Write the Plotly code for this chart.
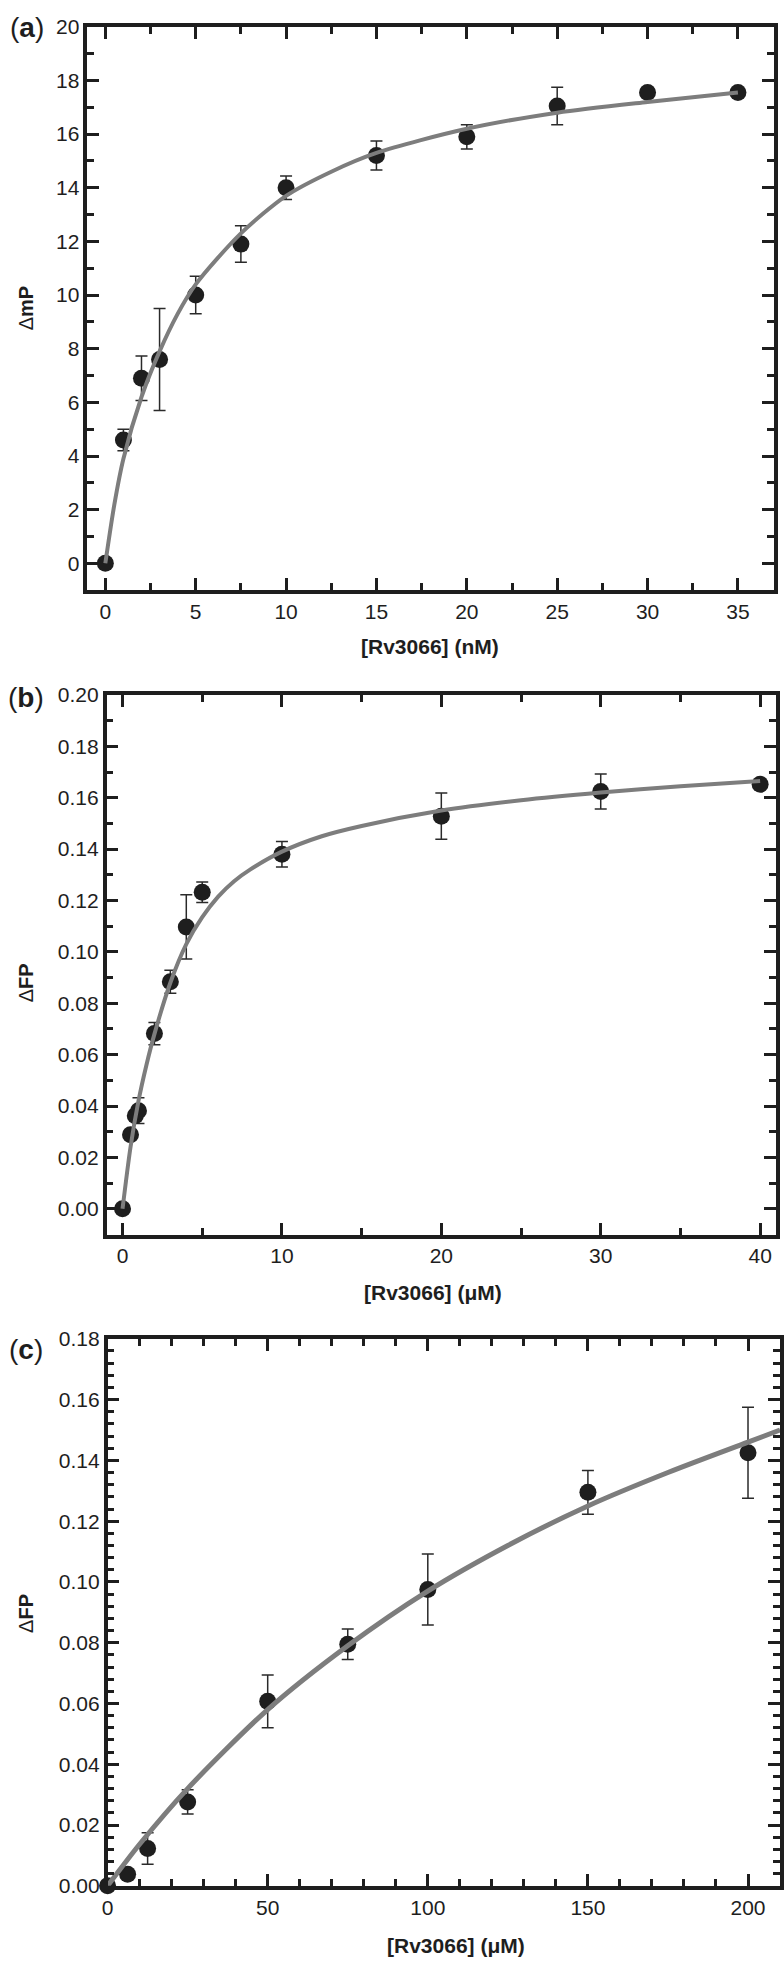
import plotly.graph_objects as go

W, H = 784, 1968

# (a) delta mP vs [Rv3066] (nM)
a_conc = [0, 1, 2, 3, 5, 7.5, 10, 15, 20, 25, 30, 35]
a_dmp = [0, 4.6, 6.9, 7.6, 10.0, 11.9, 14.0, 15.2, 15.9, 17.05, 17.55, 17.55]
a_err = [0, 0.4, 0.83, 1.9, 0.7, 0.68, 0.44, 0.54, 0.45, 0.7, 0, 0]
a_fit_x = [0, 0.5, 1, 2, 3, 4, 5, 7.5, 10, 12.5, 15, 20, 25, 30, 35]
a_fit_y = [0, 2.2, 3.9, 6.2, 7.9, 9.3, 10.4, 12.3, 13.7, 14.6, 15.3, 16.2, 16.8, 17.2, 17.55]

# (b) delta FP vs [Rv3066] (uM)
b_conc = [0, 0.5, 0.8, 1, 2, 3, 4, 5, 10, 20, 30, 40]
b_dfp = [0, 0.0288, 0.0362, 0.0382, 0.0682, 0.0884, 0.1097, 0.1232, 0.138, 0.1528, 0.1624, 0.1652]
b_err = [0, 0.001, 0.002, 0.005, 0.0043, 0.0045, 0.0125, 0.004, 0.005, 0.009, 0.0068, 0]
b_fit_x = [0, 0.5, 1, 1.5, 2, 3, 4, 5, 6, 7, 8, 10, 12.5, 15, 20, 25, 30, 35, 40]
b_fit_y = [0, 0.024, 0.042, 0.056, 0.068, 0.088, 0.103, 0.1135, 0.1215, 0.1275, 0.132, 0.139,
           0.145, 0.149, 0.155, 0.159, 0.162, 0.1645, 0.1665]

# (c) delta FP vs [Rv3066] (uM), wide range
c_conc = [0, 6.25, 12.5, 25, 50, 75, 100, 150, 200]
c_dfp = [0, 0.0038, 0.0123, 0.0276, 0.0607, 0.0795, 0.0975, 0.1295, 0.1425]
c_err = [0, 0, 0.0052, 0.004, 0.0087, 0.005, 0.0117, 0.0072, 0.015]
c_fit_x = [0, 10, 25, 50, 75, 100, 125, 150, 175, 200, 210]
c_fit_y = [0, 0.0137, 0.032, 0.058, 0.079, 0.097, 0.112, 0.125, 0.136, 0.146, 0.150]

FONT = "Liberation Sans, Arial, sans-serif"
INK = "#1e1e1e"
FIT = "#7d7d7d"


def px(x):
    return x / W


def py(y):
    return 1 - y / H


def axis_style(rng, dtick, minor_dtick, fmt=None):
    ax = dict(
        range=rng,
        dtick=dtick,
        tick0=0,
        ticks="inside",
        ticklen=12,
        tickwidth=3,
        tickcolor=INK,
        showline=True,
        linewidth=3.5,
        linecolor=INK,
        mirror="allticks",
        showgrid=False,
        zeroline=False,
        tickfont=dict(family=FONT, size=21, color=INK),
        minor=dict(dtick=minor_dtick, tick0=0, ticks="inside", ticklen=7,
                   tickwidth=3, tickcolor=INK, showgrid=False),
    )
    if fmt:
        ax["tickformat"] = fmt
    return ax


def add_panel(fig, n, xs, ys, errs, fx, fy, fit_w):
    xa = "x" if n == 1 else f"x{n}"
    ya = "y" if n == 1 else f"y{n}"
    fig.add_trace(go.Scatter(
        x=xs, y=ys, mode="markers", xaxis=xa, yaxis=ya, cliponaxis=False,
        marker=dict(size=17, color=INK),
        error_y=dict(type="data", array=errs, visible=True, color="#2a2a2a",
                     thickness=1.5, width=6),
        showlegend=False,
    ))
    fig.add_trace(go.Scatter(
        x=fx, y=fy, mode="lines", xaxis=xa, yaxis=ya, cliponaxis=False,
        line=dict(color=FIT, width=fit_w, shape="spline", smoothing=0.8),
        showlegend=False,
    ))


fig = go.Figure()
add_panel(fig, 1, a_conc, a_dmp, a_err, a_fit_x, a_fit_y, 4)
add_panel(fig, 2, b_conc, b_dfp, b_err, b_fit_x, b_fit_y, 4)
add_panel(fig, 3, c_conc, c_dfp, c_err, c_fit_x, c_fit_y, 5)

# plot frames in pixels: (left, right, top, bottom)
frames = {
    1: (82, 775, 15, 585),
    2: (101.5, 777, 691, 1237),
    3: (102.5, 781, 1342.5, 1896),
}

layout = dict(
    width=W, height=H,
    margin=dict(l=0, r=0, t=0, b=0),
    paper_bgcolor="white", plot_bgcolor="white",
    font=dict(family=FONT, color=INK),
)

x_specs = {1: ([-1, 37], 5, 2.5, None),
           2: ([-1, 41], 10, 5, None),
           3: ([0, 210], 50, 10, None)}
y_specs = {1: ([-1, 20], 2, 1, None),
           2: ([-0.01, 0.20], 0.02, 0.01, ".2f"),
           3: ([0, 0.18], 0.02, 0.004, ".2f")}

for n, (l, r, t, b) in frames.items():
    xk = "xaxis" if n == 1 else f"xaxis{n}"
    yk = "yaxis" if n == 1 else f"yaxis{n}"
    xa = axis_style(*x_specs[n])
    ya = axis_style(*y_specs[n])
    xa.update(domain=[px(l), px(r)], anchor="y" if n == 1 else f"y{n}")
    ya.update(domain=[py(b), py(t)], anchor="x" if n == 1 else f"x{n}")
    layout[xk] = xa
    layout[yk] = ya

fig.update_layout(**layout)

# axis titles and panel letters
notes = [
    ("Δ<b>mP</b>", 21, 300, 90, 20),
    ("<b>[Rv3066] (nM)</b>", 428, 642, 0, 21),
    ("Δ<b>FP</b>", 20, 982, 90, 20),
    ("<b>[Rv3066] (μM)</b>", 431, 1296, 0, 21),
    ("Δ<b>FP</b>", 20, 1620, 90, 20),
    ("<b>[Rv3066] (μM)</b>", 454, 1956, 0, 21),
    ("(<b>a</b>)", 21, 16, 0, 28),
    ("(<b>b</b>)", 20, 694, 0, 28),
    ("(<b>c</b>)", 20, 1353, 0, 28),
]
for text, x, y, rot, size in notes:
    fig.add_annotation(
        text=text, x=px(x), y=py(y), xref="paper", yref="paper",
        showarrow=False, textangle=-rot, xanchor="center", yanchor="middle",
        font=dict(family=FONT, size=size, color=INK),
    )

# drop the default body margin so the figure sits at the page origin
fig.write_html("out.html", config={"displayModeBar": False},
               post_script="document.body.style.margin='0';")
